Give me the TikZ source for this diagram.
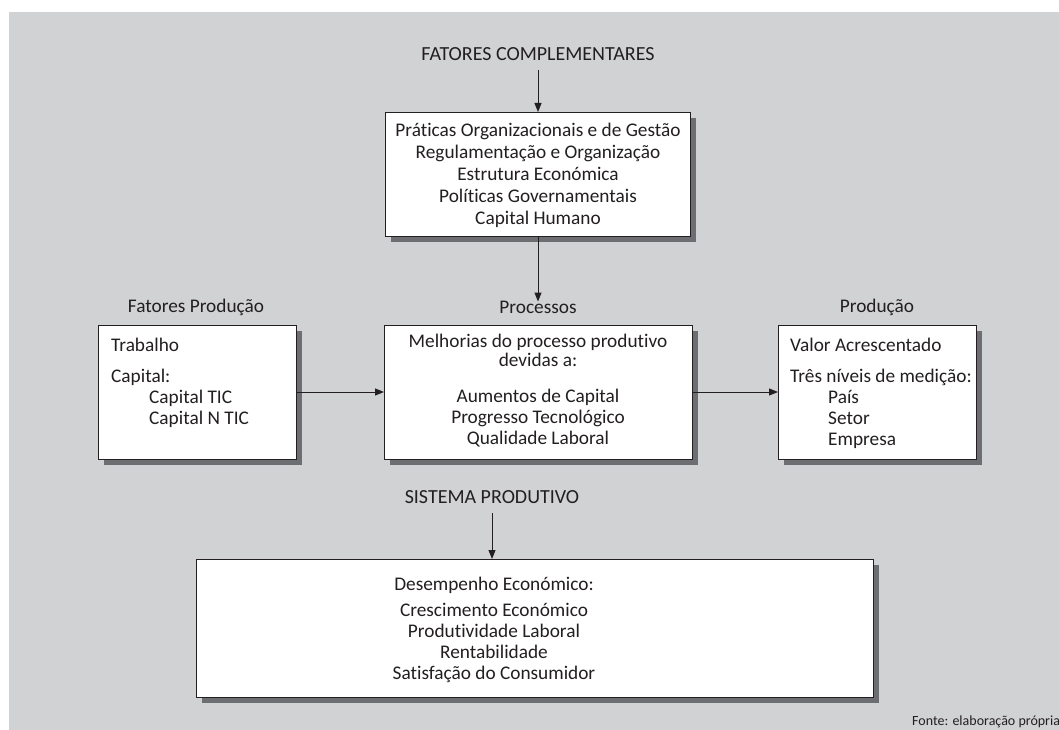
\documentclass[tikz,border=0pt]{standalone}
\usepackage{fontspec}
\setmainfont[RawFeature=-liga]{Carlito}
\usetikzlibrary{shadows,arrows.meta}
\definecolor{bggray}{HTML}{D1D2D4}
\definecolor{shadowgray}{HTML}{6D6E71}
\definecolor{linegray}{HTML}{231F20}
\tikzset{
  box/.style={draw=linegray, line width=1.3pt, fill=white, rectangle, inner sep=0pt, anchor=north west,
    drop shadow={shadow xshift=5pt, shadow yshift=-5pt, fill=shadowgray, opacity=1}},
  txt/.style={inner sep=0pt, font=\fontsize{19.3}{21}\selectfont, text=linegray},
  ttl/.style={inner sep=0pt, font=\fontsize{20}{22}\selectfont, text=linegray},
  arr/.style={draw=linegray, line width=1pt, -{Triangle[length=9pt,width=7pt]}}
}
\begin{document}
\begin{tikzpicture}[x=1pt,y=-1pt]
\useasboundingbox (0,0) rectangle (1059,730);
\fill[bggray] (9,12) rectangle (1059,730);

% top
\node[ttl] (tfc) at (538,54) {FATORES COMPLEMENTARES};
\node[box, minimum width=305pt, minimum height=124pt] (btop) at (385,112) {};
\node[txt, align=center, font=\fontsize{19.3}{22}\selectfont, anchor=north] (ttop) at (538,123) {Práticas Organizacionais e de Gestão\\Regulamentação e Organização\\Estrutura Económica\\Políticas Governamentais\\Capital Humano};

% column labels
\node[txt] (lfp) at (196,307) {Fatores Produção};
\node[txt] (lpr) at (538,307) {Processos};
\node[txt] (lpd) at (877,307) {Produção};

% left box
\node[box, minimum width=198pt, minimum height=134pt] (bleft) at (98,325) {};
\node[txt, anchor=west] (ltrab) at (111,345) {Trabalho};
\node[txt, anchor=north west, align=left] (lcap) at (111,369) {Capital:\\\hspace*{38pt}Capital TIC\\\hspace*{38pt}Capital N TIC};

% middle box
\node[box, minimum width=308pt, minimum height=134pt] (bmid) at (384,325) {};
\node[txt, anchor=north, align=center, font=\fontsize{19.3}{19}\selectfont] (mhead) at (538,334) {Melhorias do processo produtivo\\devidas a:};
\node[txt, anchor=north, align=center] (mitems) at (538,389) {Aumentos de Capital\\Progresso Tecnológico\\Qualidade Laboral};

% right box
\node[box, minimum width=198pt, minimum height=134pt] (bright) at (778,325) {};
\node[txt, anchor=west] (rval) at (790,345) {Valor Acrescentado};
\node[txt, anchor=north west, align=left] (rniv) at (790,369) {Três níveis de medição:\\\hspace*{38pt}País\\\hspace*{38pt}Setor\\\hspace*{38pt}Empresa};

% bottom
\node[ttl] (tsp) at (492,497) {SISTEMA PRODUTIVO};
\node[box, minimum width=677pt, minimum height=138pt] (bbot) at (196,559) {};
\node[txt, anchor=center] (dhead) at (494,585) {Desempenho Económico:};
\node[txt, anchor=north, align=center] (ditems) at (494,603) {Crescimento Económico\\Produtividade Laboral\\Rentabilidade\\Satisfação do Consumidor};

\node[inner sep=0pt, anchor=west, font=\fontsize{14}{16}\selectfont, text=linegray] (fonte) at (912,722) {Fonte: elaboração própria};

% arrows
\coordinate (a1) at (538,70);
\draw[arr] (a1) -- (btop.north -| a1);
\draw[arr] (btop.south -| a1) -- ([yshift=-1pt]lpr.north);
\draw[arr] (bleft.east |- 0,392) -- (bmid.west |- 0,392);
\draw[arr] (bmid.east |- 0,392) -- (bright.west |- 0,392);
\coordinate (a2) at (492,513);
\draw[arr] (a2) -- (bbot.north -| a2);
\end{tikzpicture}
\end{document}
